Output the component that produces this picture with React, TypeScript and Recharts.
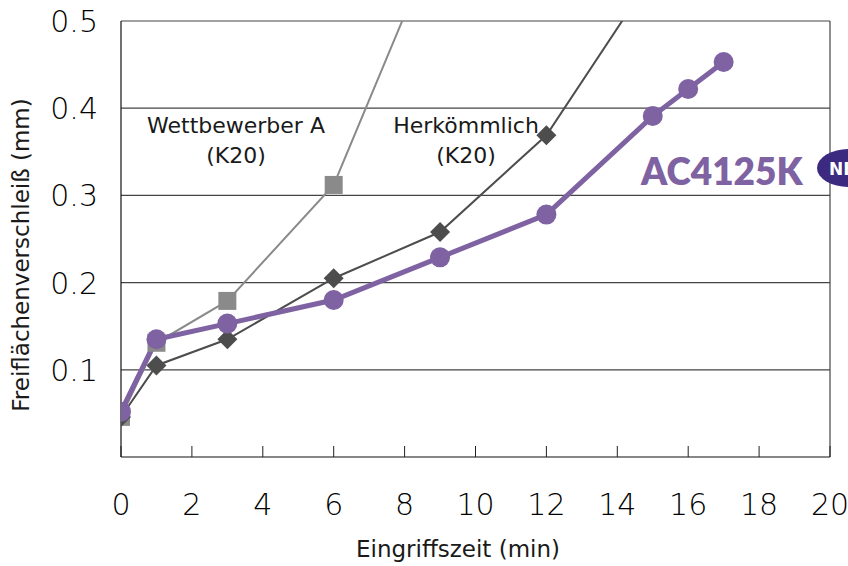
import { LineChart, Line, XAxis, YAxis, CartesianGrid, ReferenceLine } from "recharts";

// --- Data ---
const wettbewerberA = [
  { t: 0, v: 0.046 },
  { t: 1, v: 0.131 },
  { t: 3, v: 0.179 },
  { t: 6, v: 0.312 },
  { t: 9, v: 0.604 },
];

const herkoemmlich = [
  { t: 0, v: 0.046 },
  { t: 1, v: 0.105 },
  { t: 3, v: 0.135 },
  { t: 6, v: 0.205 },
  { t: 9, v: 0.258 },
  { t: 12, v: 0.369 },
  { t: 15, v: 0.553 },
];

const ac4125k = [
  { t: 0, v: 0.052 },
  { t: 1, v: 0.135 },
  { t: 3, v: 0.153 },
  { t: 6, v: 0.18 },
  { t: 9, v: 0.229 },
  { t: 12, v: 0.278 },
  { t: 15, v: 0.391 },
  { t: 16, v: 0.422 },
  { t: 17, v: 0.453 },
];

const xTicks = [0, 2, 4, 6, 8, 10, 12, 14, 16, 18, 20];
const yTicks = [0.1, 0.2, 0.3, 0.4, 0.5];

const FONT = "'DejaVu Sans', Verdana, sans-serif";

const SquareDot = (p: any) => {
  if (p.cx == null || p.cy == null) return null;
  return <rect key={p.index} x={p.cx - 9} y={p.cy - 9} width={18} height={18} fill="#8a8a8a" />;
};

const DiamondDot = (p: any) => {
  if (p.cx == null || p.cy == null) return null;
  const r = 10;
  return (
    <polygon
      key={p.index}
      points={`${p.cx},${p.cy - r} ${p.cx + r},${p.cy} ${p.cx},${p.cy + r} ${p.cx - r},${p.cy}`}
      fill="#4d4d4d"
    />
  );
};

const XTick = (p: any) => (
  <g>
    <line x1={p.x} y1={p.y} x2={p.x} y2={p.y - 11} stroke="#222" strokeWidth={1} />
    <text x={p.x} y={p.y + 58} textAnchor="middle" fontSize={30} fill="#000" fontFamily={FONT} fontWeight={200}>
      {p.payload.value}
    </text>
  </g>
);

const YTick = (p: any) => (
  <text x={p.x - 23} y={p.y + 11} textAnchor="end" fontSize={30} fill="#000" fontFamily={FONT} fontWeight={200}>
    {p.payload.value.toFixed(1)}
  </text>
);

export default function App() {
  return (
    <div style={{ position: "absolute", left: 0, top: 0, width: 848, height: 566, background: "#fff", overflow: "hidden" }}>
      <LineChart width={848} height={566} margin={{ top: 21, right: 18, bottom: 79, left: 21 }}>
        <CartesianGrid vertical={false} horizontalValues={yTicks} stroke="#444" strokeWidth={1.2} />
        <XAxis
          type="number"
          dataKey="t"
          domain={[0, 20]}
          ticks={xTicks}
          tick={<XTick />}
          tickLine={false}
          tickSize={0}
          tickMargin={0}
          height={30}
          axisLine={{ stroke: "#111", strokeWidth: 1.2 }}
          interval={0}
          allowDataOverflow
        />
        <YAxis
          type="number"
          dataKey="v"
          domain={[0, 0.5]}
          ticks={yTicks}
          tick={<YTick />}
          tickLine={false}
          tickSize={0}
          tickMargin={0}
          width={100}
          axisLine={{ stroke: "#111", strokeWidth: 1.2 }}
          interval={0}
          allowDataOverflow
        />
        <ReferenceLine x={20} stroke="#444" strokeWidth={1.2} />
        <Line
          data={wettbewerberA}
          dataKey="v"
          stroke="#8a8a8a"
          strokeWidth={2}
          dot={<SquareDot />}
          isAnimationActive={false}
        />
        <Line
          data={herkoemmlich}
          dataKey="v"
          stroke="#4d4d4d"
          strokeWidth={2}
          dot={<DiamondDot />}
          isAnimationActive={false}
        />
        <Line
          data={ac4125k}
          dataKey="v"
          stroke="#7e62a2"
          strokeWidth={5}
          dot={{ r: 10, fill: "#7e62a2", stroke: "none" }}
          isAnimationActive={false}
        />
      </LineChart>
      <svg width={848} height={566} style={{ position: "absolute", left: 0, top: 0, pointerEvents: "none" }}>
        <g fontFamily={FONT} fill="#1a1a1a" fontSize={22} textAnchor="middle">
          <text x={236} y={133}>Wettbewerber A</text>
          <text x={236} y={163}>(K20)</text>
          <text x={466} y={133}>Herkömmlich</text>
          <text x={466} y={163}>(K20)</text>
        </g>
        <text x={641} y={185} fontFamily="Lato, sans-serif" fontWeight={800} fontSize={37} fill="#7e62a2">
          AC4125K
        </text>
        <ellipse cx={849} cy={168} rx={32} ry={19} fill="#3b2a80" />
        <text x={829} y={175} fontFamily={FONT} fontWeight={700} fontSize={17} fill="#fff">
          NEW
        </text>
        <text
          x={0}
          y={0}
          transform="translate(29,255) rotate(-90)"
          textAnchor="middle"
          fontFamily={FONT}
          fontSize={23}
          fill="#1a1a1a"
        >
          Freiflächenverschleiß (mm)
        </text>
        <text x={458} y={557} textAnchor="middle" fontFamily={FONT} fontSize={23} fill="#1a1a1a">
          Eingriffszeit (min)
        </text>
      </svg>
    </div>
  );
}
